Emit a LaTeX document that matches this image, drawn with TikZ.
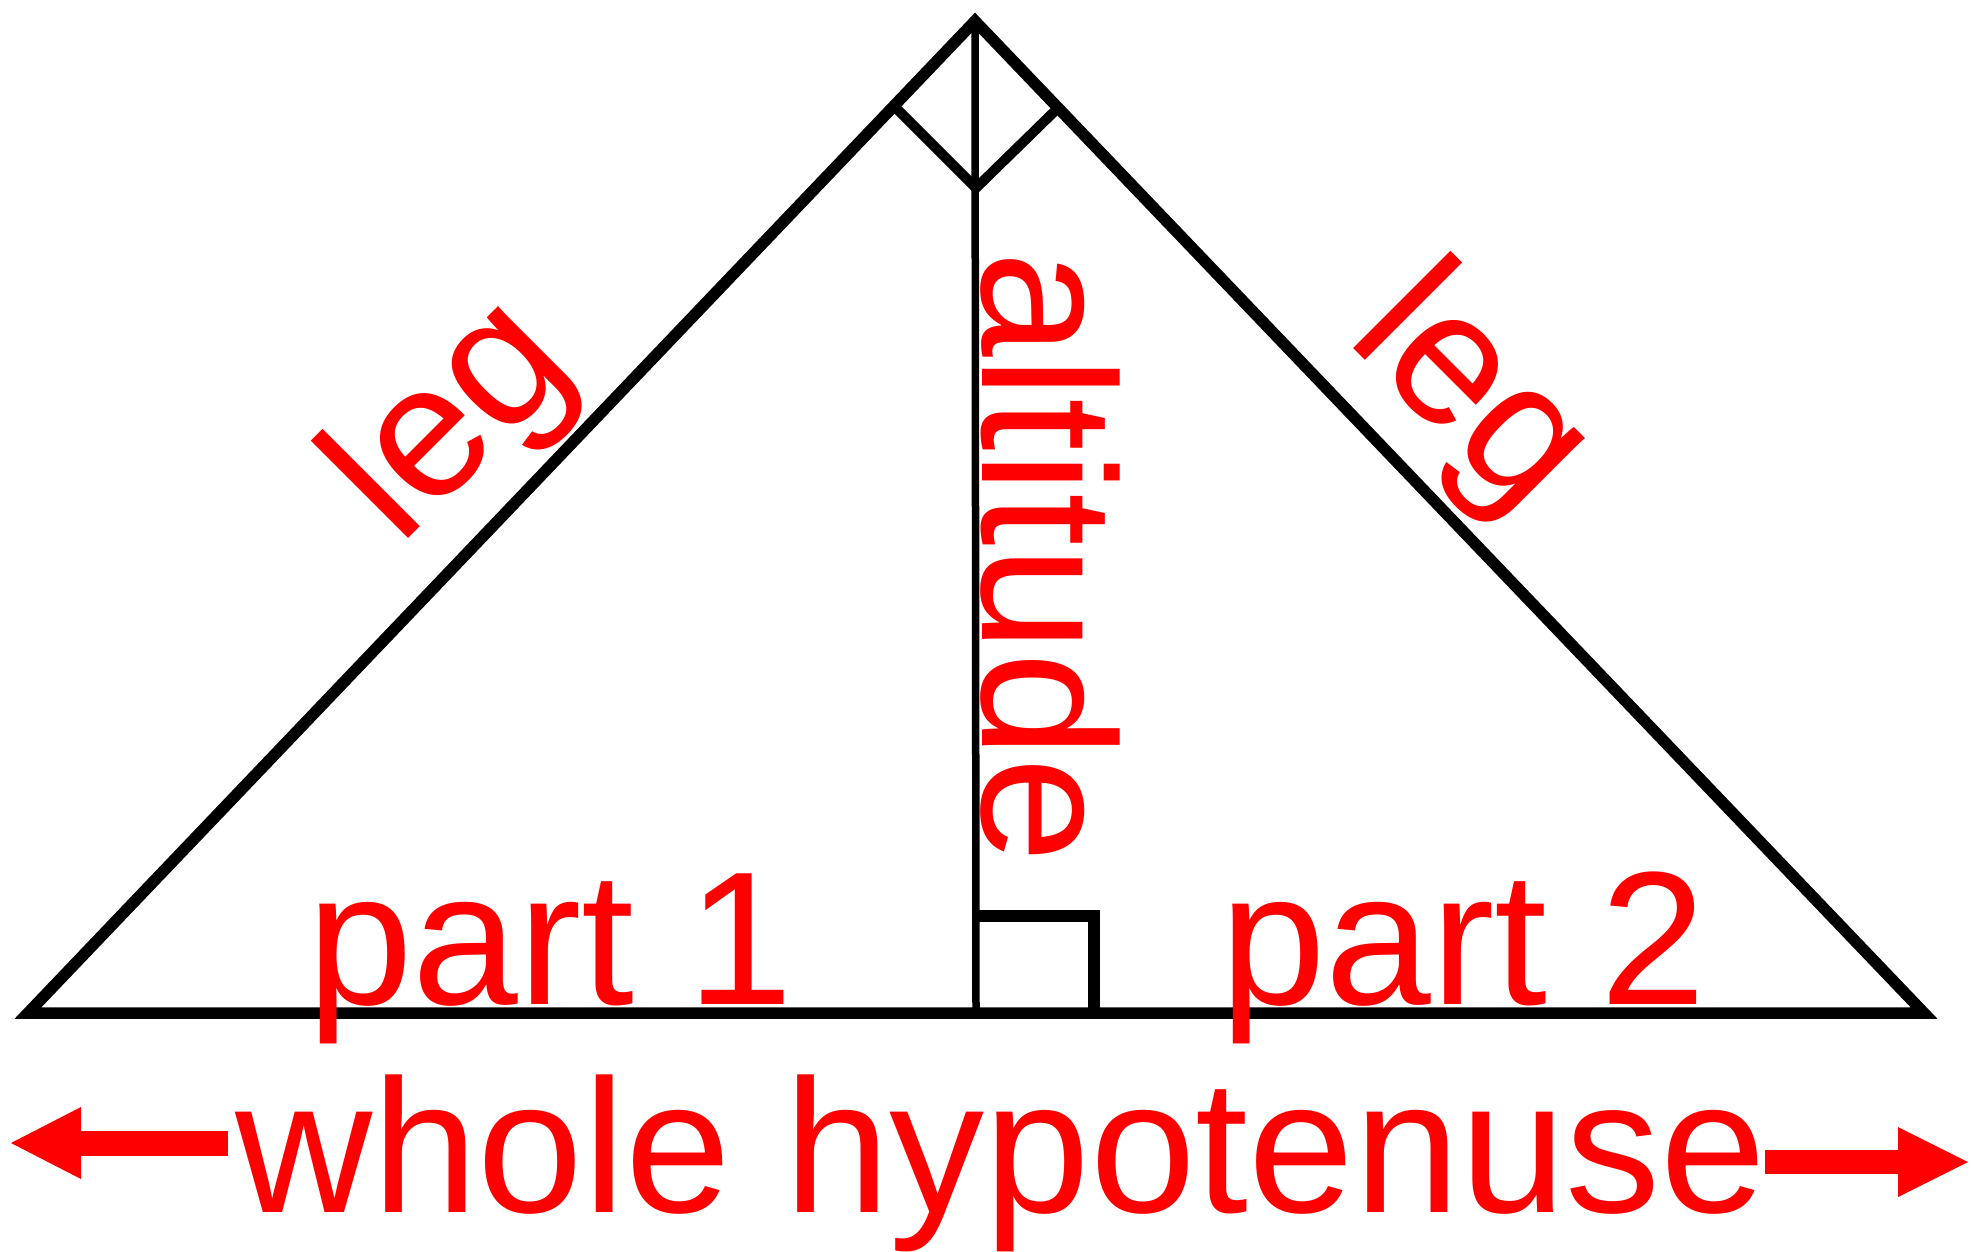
\documentclass[tikz,border=0pt]{standalone}
\usepackage{fontspec}
\setmainfont{Liberation Sans}
\begin{document}
\begin{tikzpicture}[x=1pt,y=-1pt,
  lbl/.style={text=red,font=\fontsize{190}{200}\selectfont,inner sep=0pt,outer sep=0pt},
  edge/.style={line width=11.5pt,black},
  arrowfill/.style={fill=red}]
\useasboundingbox (0,0) rectangle (1971,1251);
% triangle vertices
\coordinate (A) at (975,21);
\coordinate (B) at (28,1013);
\coordinate (C) at (1924,1013);
\coordinate (D) at (976,1013);
\draw[edge] (A) -- (B) -- (C) -- cycle;
\draw[line width=7.5pt] (A) -- (D);
% right angle mark at apex
\coordinate (ML) at (894,106);
\coordinate (MB) at (976,188);
\coordinate (MR) at (1060,106);
\draw[line width=10pt] (ML) -- (MB) -- (MR);
% right angle square at foot
\coordinate (S1) at (976,916);
\coordinate (S2) at (1094,916);
\coordinate (S3) at (1094,1013);
\draw[edge] (S1) -- (S2) -- (S3);
% labels
\node[lbl,anchor=base,rotate=45] (legL) at (489,458) {leg};
\node[lbl,anchor=base,rotate=-45] (legR) at (1434,429) {leg};
\node[lbl,anchor=base west,rotate=-90] (alt) at (982,251) {altitude};
\node[lbl,anchor=base west] (p1) at (307,1004) {part 1};
\node[lbl,anchor=base west] (p2) at (1220,1004) {part 2};
\node[lbl,anchor=base] (hyp) at (1001,1212) {whole hypotenuse};
% left arrow
\coordinate (LT) at (11,1143);
\fill[arrowfill] (81,1131) rectangle (228,1156);
\fill[arrowfill] (LT) -- (81,1107) -- (81,1179) -- cycle;
% right arrow
\coordinate (RT) at (1968,1162);
\fill[arrowfill] (1765,1150) rectangle (1898,1174);
\fill[arrowfill] (RT) -- (1898,1127) -- (1898,1197) -- cycle;
\end{tikzpicture}
\end{document}
